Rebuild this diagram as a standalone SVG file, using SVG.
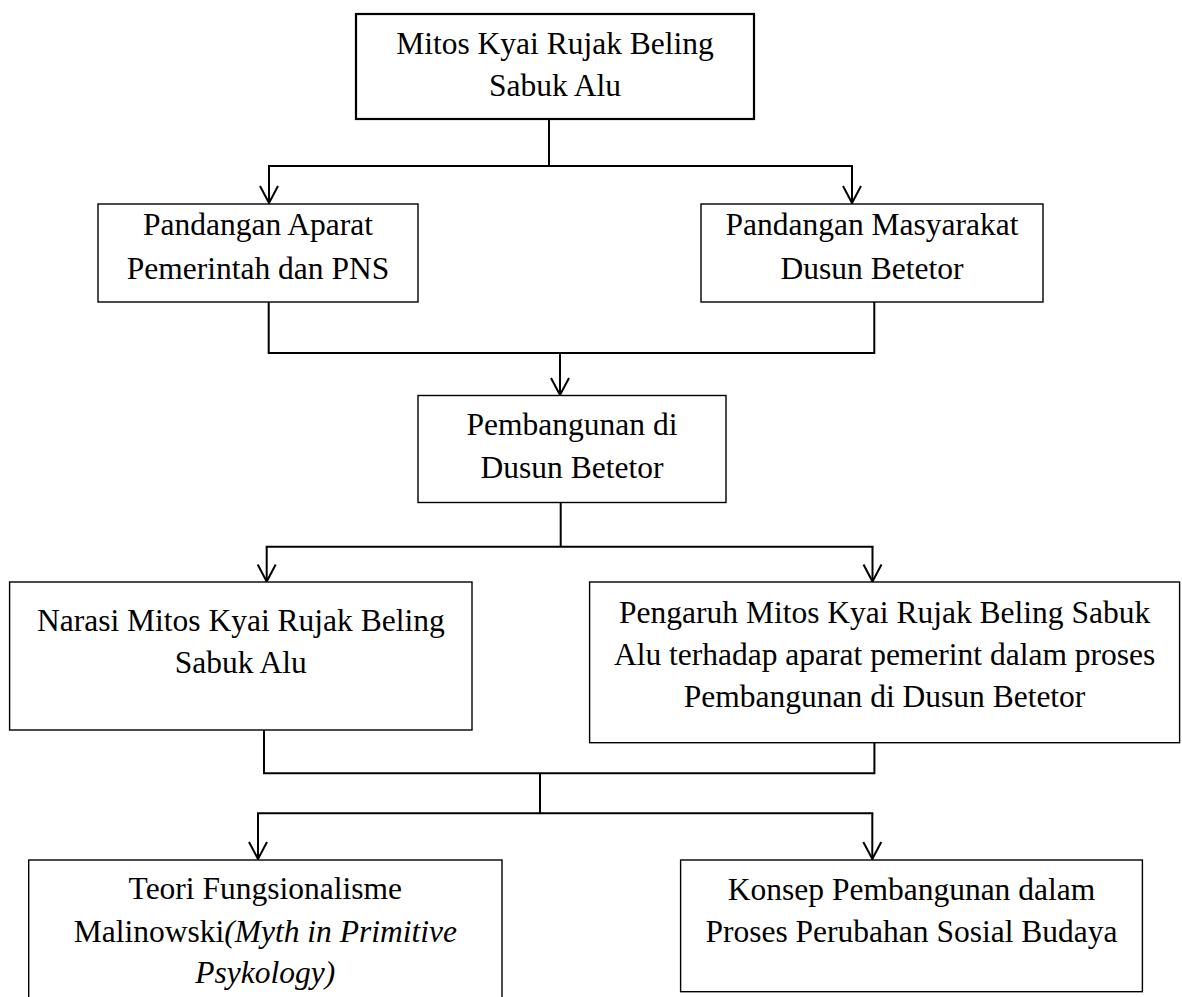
<svg xmlns="http://www.w3.org/2000/svg" width="1182" height="997" viewBox="0 0 1182 997">
<style>
.box{fill:#fff;stroke:#000;stroke-width:1.4}
.box2{fill:#fff;stroke:#000;stroke-width:2.2}
text{font-family:"Times New Roman","Liberation Serif",Tinos,"Noto Serif","DejaVu Serif",serif;font-size:31.5px;fill:#000;text-anchor:middle}
.i{font-style:italic}
.c{fill:none;stroke:#000;stroke-width:2}
</style>
<defs>
<marker id="arr" viewBox="-20 -12 22 24" refX="0" refY="0" markerWidth="22" markerHeight="24" markerUnits="userSpaceOnUse" orient="auto">
<path d="M-17,-9 L0,0 L-17,9" fill="none" stroke="#000" stroke-width="2"/>
</marker>
</defs>
<rect width="1182" height="997" fill="#fff"/>
<g id="connectors">
<path class="c" d="M549 120 V166 M268 166 H853"/>
<path class="c" d="M269 166 V203" marker-end="url(#arr)"/>
<path class="c" d="M852 166 V203" marker-end="url(#arr)"/>
<path class="c" d="M268.7 302 V353 M874.3 302 V353 M267.7 353 H875.3"/>
<path class="c" d="M560 353 V395" marker-end="url(#arr)"/>
<path class="c" d="M560.7 503 V546.7 M265.7 546.7 H873.5"/>
<path class="c" d="M266.7 546.7 V581.5" marker-end="url(#arr)"/>
<path class="c" d="M872.5 546.7 V581.5" marker-end="url(#arr)"/>
<path class="c" d="M264 730 V773.3 M874.4 742.7 V773.3 M263 773.3 H875.4 M540 773.3 V813.3 M257 813.3 H873.3"/>
<path class="c" d="M258 813.3 V859" marker-end="url(#arr)"/>
<path class="c" d="M872.3 813.3 V859" marker-end="url(#arr)"/>
</g>
<g id="n1">
<rect class="box2" x="356" y="14" width="398" height="105"/>
<text x="555" y="54">Mitos Kyai Rujak Beling</text>
<text x="555" y="95.5">Sabuk Alu</text>
</g>
<g id="n2">
<rect class="box" x="98" y="204" width="320" height="98"/>
<text x="258" y="235">Pandangan Aparat</text>
<text x="258" y="279">Pemerintah dan PNS</text>
</g>
<g id="n3">
<rect class="box" x="701" y="204" width="342" height="98"/>
<text x="872" y="235">Pandangan Masyarakat</text>
<text x="872" y="279">Dusun Betetor</text>
</g>
<g id="n4">
<rect class="box" x="418" y="395.5" width="308" height="107"/>
<text x="572" y="435">Pembangunan di</text>
<text x="572" y="478">Dusun Betetor</text>
</g>
<g id="n5">
<rect class="box" x="9.6" y="582" width="462.4" height="148"/>
<text x="240.8" y="631">Narasi Mitos Kyai Rujak Beling</text>
<text x="240.8" y="673">Sabuk Alu</text>
</g>
<g id="n6">
<rect class="box" x="589.6" y="582" width="590" height="160.7"/>
<text x="884.6" y="623">Pengaruh Mitos Kyai Rujak Beling Sabuk</text>
<text x="884.6" y="665">Alu terhadap aparat pemerint dalam proses</text>
<text x="884.6" y="707">Pembangunan di Dusun Betetor</text>
</g>
<g id="n7">
<rect class="box" x="28.7" y="860" width="473.3" height="160"/>
<text x="265.3" y="899">Teori Fungsionalisme</text>
<text x="265.3" y="941.7">Malinowski<tspan class="i">(Myth in Primitive</tspan></text>
<text class="i" x="265.3" y="983.3">Psykology)</text>
</g>
<g id="n8">
<rect class="box" x="680.6" y="860" width="461.8" height="131.7"/>
<text x="911.5" y="900">Konsep Pembangunan dalam</text>
<text x="911.5" y="941.7">Proses Perubahan Sosial Budaya</text>
</g>
</svg>
